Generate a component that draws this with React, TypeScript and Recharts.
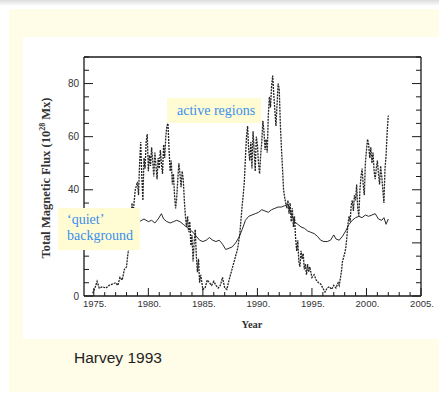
import { Line, LineChart, XAxis, YAxis } from "recharts";

const activeYears = [
  1974.9, 1975.1, 1975.3, 1975.5, 1975.8, 1976.1, 1976.4, 1976.7, 1977.0, 1977.2,
  1977.4, 1977.6, 1977.8, 1978.0, 1978.1, 1978.3, 1978.4, 1978.5, 1978.6, 1978.8,
  1979.0, 1979.1, 1979.2, 1979.3, 1979.4, 1979.5, 1979.6, 1979.7, 1979.8, 1979.9,
  1980.0, 1980.1, 1980.2, 1980.3, 1980.4, 1980.5, 1980.6, 1980.7, 1980.8, 1980.9,
  1981.0, 1981.1, 1981.2, 1981.3, 1981.4, 1981.5, 1981.6, 1981.7, 1981.8, 1981.9,
  1982.0, 1982.1, 1982.2, 1982.3, 1982.4, 1982.5, 1982.6, 1982.7, 1982.8, 1982.9,
  1983.0, 1983.1, 1983.2, 1983.3, 1983.4, 1983.5, 1983.6, 1983.7, 1983.8, 1983.9,
  1984.0, 1984.1, 1984.2, 1984.3, 1984.4, 1984.5, 1984.6, 1984.7, 1984.8, 1985.0,
  1985.2, 1985.4, 1985.6, 1985.8, 1986.0, 1986.2, 1986.4, 1986.6, 1986.8, 1987.0,
  1987.2, 1987.4, 1987.6, 1987.8, 1988.0, 1988.2, 1988.4, 1988.5, 1988.6, 1988.7,
  1988.8, 1988.9, 1989.0, 1989.1, 1989.2, 1989.3, 1989.4, 1989.5, 1989.6, 1989.7,
  1989.8, 1989.9, 1990.0, 1990.1, 1990.2, 1990.3, 1990.4, 1990.5, 1990.6, 1990.7,
  1990.8, 1990.9, 1991.0, 1991.1, 1991.2, 1991.3, 1991.4, 1991.5, 1991.6, 1991.7,
  1991.8, 1991.9, 1992.0, 1992.1, 1992.2, 1992.3, 1992.4, 1992.5, 1992.6, 1992.7,
  1992.8, 1992.9, 1993.0, 1993.1, 1993.2, 1993.3, 1993.4, 1993.5, 1993.6, 1993.7,
  1993.8, 1993.9, 1994.0, 1994.1, 1994.2, 1994.3, 1994.4, 1994.5, 1994.6, 1994.7,
  1994.8, 1995.0, 1995.2, 1995.4, 1995.6, 1995.8, 1996.0, 1996.2, 1996.4, 1996.6,
  1996.8, 1997.0, 1997.2, 1997.4, 1997.5, 1997.7, 1997.8, 1998.0, 1998.1, 1998.2,
  1998.3, 1998.4, 1998.5, 1998.6, 1998.7, 1998.8, 1998.9, 1999.0, 1999.1, 1999.2,
  1999.3, 1999.4, 1999.5, 1999.6, 1999.7, 1999.8, 1999.9, 2000.0, 2000.1, 2000.2,
  2000.3, 2000.4, 2000.5, 2000.6, 2000.7, 2000.8, 2000.9, 2001.0, 2001.1, 2001.2,
  2001.3, 2001.4, 2001.5, 2001.6, 2001.7, 2001.8, 2001.9, 2002.0,
];
const activeFlux = [
  1, 3, 5.5, 3, 3.5, 3, 4, 4.5, 5, 4,
  7, 6, 10, 11, 15, 21, 27, 35, 31, 40,
  43, 38, 50, 58, 45, 36, 52, 48, 58, 61,
  47, 53, 49, 56, 51, 45, 54, 49, 44, 52,
  48, 55, 50, 46, 57, 52, 60, 64, 65, 55,
  47, 51, 42, 46, 38, 33, 37, 44, 50, 46,
  41, 47, 44, 36, 30, 26, 30, 24, 28, 19,
  23, 13, 20, 25, 15, 9, 14, 5, 8, 2.5,
  3, 6, 5, 4, 5.5, 4, 3, 4, 7, 3,
  2.5, 6, 9, 12, 15, 18, 24, 29, 34, 38,
  43, 52, 60, 64, 55, 51, 58, 48, 62, 55,
  47, 60, 57, 50, 46, 53, 58, 66, 62, 55,
  59, 54, 68, 75, 71, 79, 83, 76, 70, 64,
  72, 80, 78, 65, 56, 48, 40, 37, 35, 33,
  36, 31, 35, 28, 33, 26, 30, 22, 17, 21,
  13, 11, 17, 14, 16, 10, 12, 8, 12, 9,
  11, 7, 8, 6, 5, 4.5, 3, 1.5, 3, 3.5,
  2.5, 4, 3, 5, 4, 9, 13, 16, 18, 22,
  27, 30, 28, 34, 36, 32, 38, 36, 42, 33,
  30, 40, 45, 48, 42, 38, 50, 55, 59, 57,
  52, 56, 50, 54, 47, 44, 48, 51, 46, 42,
  49, 45, 40, 35, 48, 53, 62, 68,
];

// 'quiet' background flux
const quietYears = [
  1977.8, 1978.2, 1978.6, 1979.0, 1979.3, 1979.6, 1980.0, 1980.3, 1980.6, 1980.9,
  1981.2, 1981.4, 1981.7, 1982.0, 1982.3, 1982.6, 1982.9, 1983.2, 1983.5, 1983.8,
  1984.1, 1984.4, 1984.7, 1985.0, 1985.3, 1985.6, 1985.9, 1986.2, 1986.5, 1986.8,
  1987.1, 1987.4, 1987.7, 1988.0, 1988.3, 1988.6, 1988.9, 1989.2, 1989.5, 1989.8,
  1990.1, 1990.4, 1990.7, 1991.0, 1991.3, 1991.6, 1991.9, 1992.2, 1992.5, 1992.8,
  1993.1, 1993.4, 1993.7, 1994.0, 1994.3, 1994.6, 1994.9, 1995.2, 1995.5, 1995.8,
  1996.1, 1996.4, 1996.7, 1997.0, 1997.2, 1997.5, 1997.8, 1998.1, 1998.4, 1998.7,
  1999.0, 1999.3, 1999.6, 1999.9, 2000.2, 2000.5, 2000.8, 2001.1, 2001.4, 2001.6,
  2001.8, 2002.0,
];
const quietFlux = [
  28, 29, 28.5, 28, 28.3, 29, 28, 28.5, 27.5, 29,
  31, 29, 28, 27.5, 28, 28.5, 28, 27, 26, 25,
  24, 22.5, 21, 20.5, 21, 22, 21, 20.5, 21, 19.5,
  17.5, 18, 18.5, 20, 22, 25, 28.5, 30, 30.5, 31,
  31.5, 32.5, 32, 31.5, 32.5, 33, 33.5, 33.5, 34, 34.5,
  31, 28, 27, 26, 25.5, 24.5, 24, 23.5, 22.5, 21,
  20.5, 20.5, 21, 23, 21.5, 21, 22.5, 24.5, 27, 28.5,
  29.5, 30, 29.5, 30.5, 30, 30.5, 31, 29, 28.5, 29.5,
  27, 29,
];

const yearTicks = [
  1975, 1976, 1977, 1978, 1979, 1980, 1981, 1982, 1983, 1984,
  1985, 1986, 1987, 1988, 1989, 1990, 1991, 1992, 1993, 1994,
  1995, 1996, 1997, 1998, 1999, 2000, 2001, 2002, 2003, 2004, 2005,
];
const fluxTicks = [0, 5, 10, 15, 20, 25, 30, 35, 40, 45, 50, 55, 60, 65, 70, 75, 80, 85, 90];

const activeData = activeYears.map((year, i) => ({ year, flux: activeFlux[i] }));
const quietData = quietYears.map((year, i) => ({ year, flux: quietFlux[i] }));

const ink = "#1a1a1a";
const tickFont = "'Liberation Sans', Arial, sans-serif";
const serif = "'Liberation Serif', 'Times New Roman', serif";

function BottomTick({ x, y, payload }: any) {
  const major = payload.value % 5 === 0;
  return (
    <g>
      <line x1={x} x2={x} y1={y} y2={y - (major ? 8 : 4)} stroke={ink} />
      {major && (
        <text x={x + 1} y={y + 11} textAnchor="middle" fontSize={9.5} fontFamily={tickFont} fill="#333">
          {`${payload.value}.`}
        </text>
      )}
    </g>
  );
}

function TopTick({ x, y, payload }: any) {
  const major = payload.value % 5 === 0;
  return <line x1={x} x2={x} y1={y} y2={y + (major ? 8 : 4)} stroke={ink} />;
}

function LeftTick({ x, y, payload }: any) {
  const major = payload.value % 20 === 0;
  return (
    <g>
      <line x1={x} x2={x + (major ? 9 : 5)} y1={y} y2={y} stroke={ink} />
      {major && (
        <text x={x - 5} y={y + 3.5} textAnchor="end" fontSize={10} fontFamily={tickFont} fill="#333">
          {payload.value}
        </text>
      )}
    </g>
  );
}

function RightTick({ x, y, payload }: any) {
  const major = payload.value % 20 === 0;
  return <line x1={x} x2={x - (major ? 9 : 5)} y1={y} y2={y} stroke={ink} />;
}

function YTitle() {
  return (
    <text
      transform="translate(27,141) rotate(-90)"
      textAnchor="middle"
      fontSize={12.5}
      fontWeight="bold"
      fontFamily={serif}
      fill="#333"
    >
      Total Magnetic Flux (10
      <tspan dy={-5} fontSize={8}>28</tspan>
      <tspan dy={5}> Mx)</tspan>
    </text>
  );
}

function XTitle() {
  return (
    <text x={229} y={291} textAnchor="middle" fontSize={10.5} fontWeight="bold" fontFamily={serif} fill="#333">
      Year
    </text>
  );
}

const noteBox = {
  position: "absolute" as const,
  background: "#fffbd2",
  boxSizing: "border-box" as const,
};

const noteText = {
  position: "absolute" as const,
  color: "#3a8ff0",
  fontFamily: serif,
  fontSize: 14,
  lineHeight: "14px",
  whiteSpace: "nowrap" as const,
};

export default function App() {
  return (
    <div style={{ position: "absolute", left: 0, top: 0, width: 439, height: 398, background: "#fff", overflow: "hidden" }}>
      <div style={{ position: "absolute", left: 0, top: 0, width: 439, height: 6, background: "linear-gradient(#dcdcdc, #fff)" }} />
      <div style={{ position: "absolute", left: 9, top: 9, width: 430, height: 383, background: "#fffde8" }} />
      <div style={{ position: "absolute", left: 23, top: 37, width: 416, height: 302, background: "#fff" }}>
        <LineChart width={415} height={302} margin={{ top: 0, right: 0, bottom: 0, left: 0 }}>
          <XAxis
            dataKey="year"
            type="number"
            domain={[1974.1, 2005]}
            allowDataOverflow
            ticks={yearTicks}
            interval={0}
            height={43}
            tickSize={0}
            tickMargin={0}
            tick={BottomTick}
            axisLine={{ stroke: ink, strokeWidth: 1.3 }}
            label={{ content: XTitle }}
          />
          <XAxis
            xAxisId="top"
            orientation="top"
            type="number"
            domain={[1974.1, 2005]}
            allowDataOverflow
            ticks={yearTicks}
            interval={0}
            height={20}
            tickSize={0}
            tickMargin={0}
            tick={TopTick}
            axisLine={{ stroke: ink, strokeWidth: 1.3 }}
          />
          <YAxis
            type="number"
            domain={[0, 90]}
            allowDataOverflow
            ticks={fluxTicks}
            interval={0}
            width={61}
            tickSize={0}
            tickMargin={0}
            tick={LeftTick}
            axisLine={{ stroke: ink, strokeWidth: 1.3 }}
            label={{ content: YTitle }}
          />
          <YAxis
            yAxisId="right"
            orientation="right"
            type="number"
            domain={[0, 90]}
            allowDataOverflow
            ticks={fluxTicks}
            interval={0}
            width={17}
            tickSize={0}
            tickMargin={0}
            tick={RightTick}
            axisLine={{ stroke: ink, strokeWidth: 1.3 }}
          />
          <Line
            data={quietData}
            dataKey="flux"
            type="linear"
            stroke="#2a2a2a"
            strokeWidth={1}
            dot={false}
            isAnimationActive={false}
          />
          <Line
            data={activeData}
            dataKey="flux"
            type="linear"
            stroke="#222"
            strokeWidth={1.3}
            strokeDasharray="2 1"
            dot={false}
            isAnimationActive={false}
          />
        </LineChart>
      </div>
      <div style={{ ...noteBox, left: 167, top: 98, width: 94, height: 25 }} />
      <div style={{ ...noteText, left: 177, top: 104 }}>active regions</div>
      <div style={{ ...noteBox, left: 58, top: 208, width: 82, height: 42 }} />
      <div style={{ ...noteText, left: 67, top: 213 }}>‘quiet’</div>
      <div style={{ ...noteText, left: 67, top: 229 }}>background</div>
      <div
        style={{
          position: "absolute",
          left: 74,
          top: 349,
          fontFamily: "'Liberation Sans', Arial, sans-serif",
          fontSize: 15.5,
          color: "#222",
        }}
      >
        Harvey 1993
      </div>
    </div>
  );
}
